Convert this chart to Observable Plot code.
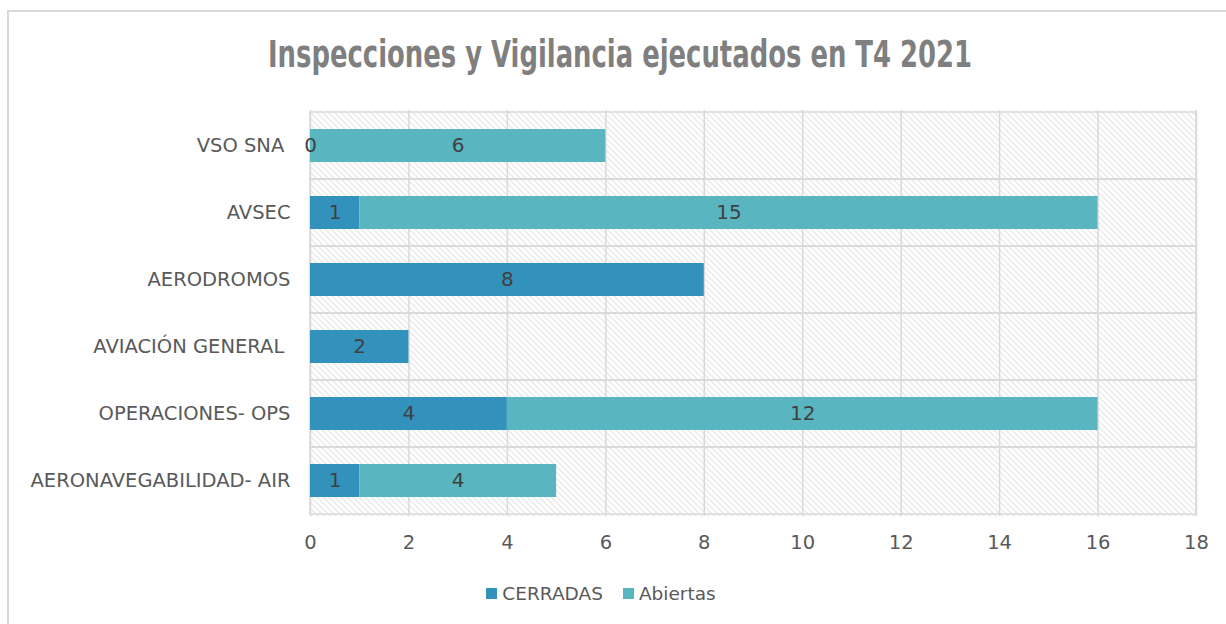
<!DOCTYPE html>
<html>
<head>
<meta charset="utf-8">
<script src="https://cdn.jsdelivr.net/npm/d3@7"></script>
<script src="https://cdn.jsdelivr.net/npm/@observablehq/plot@0.6"></script>
<style>
  html, body { margin: 0; padding: 0; background: #fff; }
  #wrap { position: relative; width: 1226px; height: 624px; overflow: hidden; font-family: "DejaVu Sans", sans-serif; }
  #border { position: absolute; left: 7px; top: 10px; width: 1240px; height: 640px; border: 2px solid #d9d9d9; box-sizing: border-box; }
  #title { position: absolute; left: 0; top: 33px; white-space: nowrap; font-family: "DejaVu Sans", sans-serif; font-stretch: condensed; font-weight: bold; font-size: 37px; line-height: 44px; color: #7f7f7f; transform-origin: 0 0; }
  #chart { position: absolute; left: 0; top: 90px; }
  #legend { position: absolute; left: 0; width: 1202px; top: 582px; text-align: center; font-size: 18.5px; color: #595959; }
  .li { display: inline-flex; align-items: center; margin: 0 10px; }
  .sw { width: 11px; height: 11px; display: inline-block; margin-right: 5px; }
</style>
</head>
<body>
<div id="wrap">
  <div id="border"></div>
  <div id="title">Inspecciones y Vigilancia ejecutados en T4 2021</div>
  <div id="chart"></div>
  <div id="legend"></div>
</div>
<script>
const categories = ["VSO SNA ", "AVSEC", "AERODROMOS", "AVIACIÓN GENERAL ", "OPERACIONES- OPS", "AERONAVEGABILIDAD- AIR"];
const cerradas = [0, 1, 8, 2, 4, 1];
const abiertas = [6, 15, null, null, 12, 4];
const seriesNames = ["CERRADAS", "Abiertas"];
const seriesColors = ["#3392bb", "#59b6c0"];
const xTicks = [0, 2, 4, 6, 8, 10, 12, 14, 16, 18];

const rows = [];
categories.forEach((c, i) => {
  const a = cerradas[i] ?? 0;
  rows.push({cat: c, series: "CERRADAS", x1: 0, x2: a, value: cerradas[i]});
  if (abiertas[i] != null) rows.push({cat: c, series: "Abiertas", x1: a, x2: a + abiertas[i], value: abiertas[i]});
});
const labeled = rows.filter(d => d.value != null);

const chart = Plot.plot({
  width: 1226,
  height: 470,
  marginLeft: 310,
  marginRight: 30,
  marginTop: 20,
  marginBottom: 44,
  style: {fontFamily: "DejaVu Sans, sans-serif", fontSize: "19.5px", color: "#595959", background: "transparent"},
  x: {domain: [0, 18], ticks: xTicks, tickSize: 0, tickPadding: 19, label: null},
  y: {domain: categories, padding: 0, tickSize: 0, tickPadding: 20, label: null},
  color: {domain: seriesNames, range: seriesColors},
  marks: [
    Plot.frame({fill: "url(#hatch)", stroke: "none"}),
    Plot.ruleX(xTicks, {stroke: "#d9d9d9", strokeWidth: 1.5}),
    Plot.barX(categories, {y: d => d, x1: 0, x2: 18, fill: "none", stroke: "#d9d9d9", strokeWidth: 1.5}),
    Plot.barX(rows, {y: "cat", x1: "x1", x2: "x2", fill: "series", insetTop: 17, insetBottom: 17}),
    Plot.text(labeled, {y: "cat", x: d => (d.x1 + d.x2) / 2, text: d => String(d.value), fill: "#404040", fontSize: 20})
  ]
});

const svg = d3.select(chart);
const defs = svg.insert("defs", ":first-child");
const P = 6;
const pat = defs.append("pattern").attr("id", "hatch").attr("patternUnits", "userSpaceOnUse")
  .attr("width", P).attr("height", P);
pat.append("rect").attr("width", P).attr("height", P).attr("fill", "#fff");
for (let k = 0; k < P; k++) {
  pat.append("rect").attr("x", k).attr("y", k).attr("width", 1).attr("height", 1)
    .attr("fill", k % 2 ? "#cdcdcd" : "#d9d9d9").attr("shape-rendering", "crispEdges");
}
document.getElementById("chart").appendChild(chart);

// fit title to reference width, centred
const title = document.getElementById("title");
const w = title.getBoundingClientRect().width;
const target = 704;
const s = target / w;
title.style.transform = `scaleX(${s})`;
title.style.left = (620 - target / 2) + "px";

const legend = document.getElementById("legend");
seriesNames.forEach((s, i) => {
  const span = document.createElement("span");
  span.className = "li";
  span.innerHTML = `<span class="sw" style="background:${seriesColors[i]}"></span>${s}`;
  legend.appendChild(span);
});
</script>
</body>
</html>
